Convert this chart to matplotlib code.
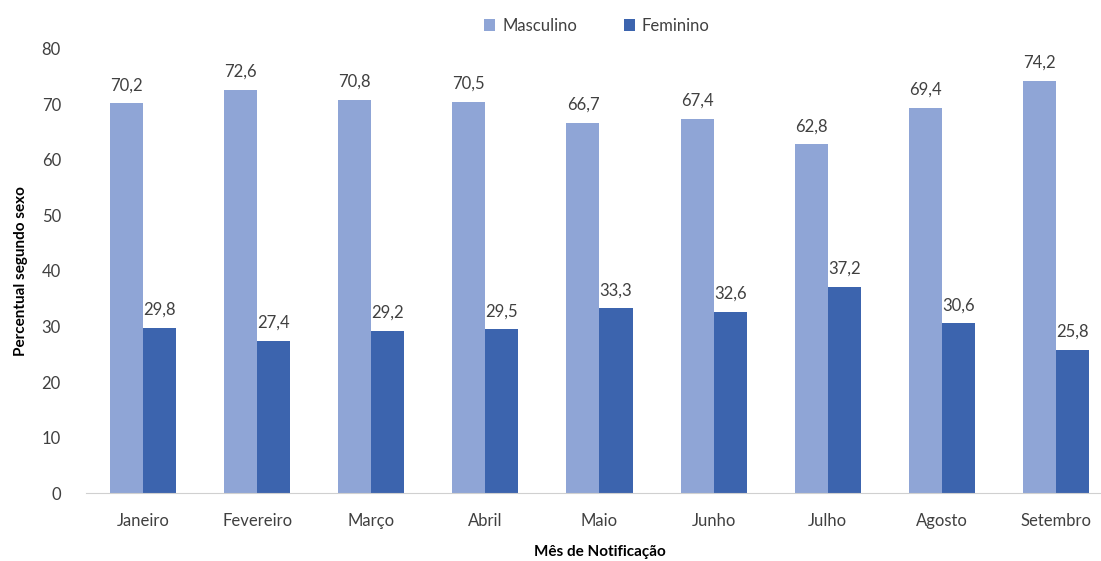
import numpy as np
import matplotlib.pyplot as plt

plt.rcParams['font.family'] = ['Lato', 'DejaVu Sans']

meses = ['Janeiro', 'Fevereiro', 'Março', 'Abril', 'Maio', 'Junho', 'Julho', 'Agosto', 'Setembro']
masculino = [70.2, 72.6, 70.8, 70.5, 66.7, 67.4, 62.8, 69.4, 74.2]
feminino = [29.8, 27.4, 29.2, 29.5, 33.3, 32.6, 37.2, 30.6, 25.8]

cor_masc = '#8FA5D6'
cor_fem = '#3C64AE'

fig = plt.figure(figsize=(11.01, 5.61), dpi=100)
ax = fig.add_axes([0.078, 0.121, 0.933, 0.792])

x = np.arange(len(meses))
w = 0.29
b1 = ax.bar(x - w / 2, masculino, w, color=cor_masc, label='Masculino')
b2 = ax.bar(x + w / 2, feminino, w, color=cor_fem, label='Feminino')

for bars, vals in ((b1, masculino), (b2, feminino)):
    for r, v in zip(bars, vals):
        ax.text(r.get_x() + r.get_width() / 2, v + 1.8, f'{v:.1f}'.replace('.', ','),
                ha='center', va='bottom', fontsize=12, color='#404040')

ax.set_xlim(-0.5, 8.5)
ax.set_ylim(0, 80)
ax.set_yticks(range(0, 81, 10))
ax.set_xticks(x)
ax.set_xticklabels(meses)
ax.tick_params(length=0, labelsize=12, labelcolor='#404040')
ax.tick_params(axis='x', pad=14)
ax.tick_params(axis='y', pad=18)

for s in ['top', 'right', 'left']:
    ax.spines[s].set_visible(False)
ax.spines['bottom'].set_color('#D0D0D0')

ax.set_ylabel('Percentual segundo sexo', fontsize=11, fontweight='bold', color='#000000', labelpad=10)
ax.set_xlabel('Mês de Notificação', fontsize=11, fontweight='bold', color='#000000', labelpad=12)

fig.legend(loc='upper center', bbox_to_anchor=(0.542, 0.995), ncol=2, frameon=False,
           fontsize=12, handlelength=0.7, handleheight=0.7, columnspacing=2.8,
           handletextpad=0.4, labelcolor='#404040')

fig.savefig('out.png', dpi=100)
